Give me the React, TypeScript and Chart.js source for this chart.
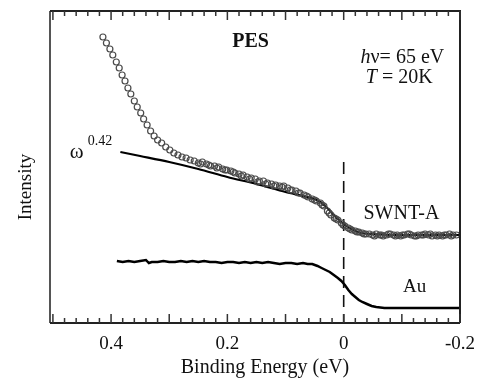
import React, { useEffect, useRef } from 'react';
import { Chart, registerables } from 'chart.js';

Chart.register(...registerables);

// SWNT-A photoemission data (open circles)
const swntX = [
  0.414, 0.408, 0.402, 0.397, 0.391, 0.386, 0.381, 0.376, 0.371, 0.366,
  0.360, 0.355, 0.349, 0.344, 0.338, 0.332, 0.326, 0.320, 0.313, 0.306,
  0.299, 0.292, 0.285, 0.278, 0.271, 0.264, 0.257, 0.250, 0.243, 0.236,
  0.229, 0.222, 0.215, 0.208, 0.201, 0.194, 0.187, 0.180, 0.173, 0.166,
  0.159, 0.152, 0.145, 0.138, 0.131, 0.124, 0.117, 0.110, 0.103, 0.096,
  0.089, 0.082, 0.075, 0.068, 0.061, 0.054, 0.047, 0.040, 0.034, 0.028,
  0.022, 0.016, 0.010, 0.004, -0.002, -0.008, -0.014, -0.020, -0.026, -0.032,
  -0.038, -0.044, -0.050, -0.056, -0.062, -0.068, -0.074, -0.080, -0.086, -0.092,
  -0.098, -0.104, -0.110, -0.116, -0.122, -0.128, -0.134, -0.140, -0.146, -0.152,
  -0.158, -0.164, -0.170, -0.176, -0.182, -0.188, -0.194,
  0.246, 0.232, 0.218, 0.204, 0.190, 0.176, 0.162, 0.148, 0.134, 0.120,
  0.106, 0.092, 0.078, 0.064, 0.050, 0.037, 0.025, 0.013, 0.001, -0.011,
  -0.023, -0.035, -0.053, -0.065, -0.077, -0.089, -0.101, -0.113, -0.125, -0.137,
  -0.149, -0.161, -0.173, -0.185,
];
const swntY = [
  286, 280, 274, 268, 261, 255, 248, 242, 235, 229,
  222, 216, 210, 204, 198, 192, 187, 183, 180, 176,
  173, 170, 168, 166, 165, 163, 162, 160, 161, 159,
  157, 157, 156, 154, 153, 152, 150, 149, 148, 146,
  145, 144, 142, 142, 140, 139, 138, 137, 137, 135,
  133, 132, 130, 128, 126, 124, 122, 120, 117, 112,
  108, 105, 103, 100, 97, 95, 93, 92, 91, 90,
  89, 89, 88, 89, 88, 87, 88, 89, 88, 88,
  87, 88, 89, 88, 87, 88, 88, 89, 88, 87,
  88, 88, 87, 88, 89, 88, 88,
  159, 158, 155, 153, 151, 147, 144, 141, 139, 137,
  136, 133, 130, 127, 123, 118, 110, 104, 98, 94,
  91, 89, 87, 88, 89, 87, 88, 89, 87, 88,
  89, 87, 88, 87,
];

// omega^0.42 fit curve (solid line)
const fitX = [0.384, 0.35, 0.30, 0.25, 0.20, 0.15, 0.10, 0.07, 0.05, 0.04, 0.03, 0.02, 0.01, 0.0, -0.01, -0.02, -0.03, -0.05, -0.08, -0.12, -0.16, -0.2];
const fitY = [171, 167, 161, 154, 146, 139, 131, 127, 124, 121, 116, 110, 104, 99, 95, 92, 90, 89, 88, 88, 88, 88];

// Au reference spectrum
const auX = [
  0.390, 0.380, 0.370, 0.360, 0.350, 0.340, 0.335, 0.330, 0.320, 0.310,
  0.300, 0.290, 0.280, 0.270, 0.260, 0.250, 0.240, 0.230, 0.220, 0.210,
  0.200, 0.190, 0.180, 0.170, 0.160, 0.150, 0.140, 0.130, 0.120, 0.110,
  0.100, 0.090, 0.080, 0.070, 0.062, 0.054, 0.045, 0.038, 0.031, 0.024,
  0.017, 0.010, 0.004, -0.002, -0.008, -0.014, -0.020, -0.026, -0.032, -0.040,
  -0.048, -0.056, -0.070, -0.090, -0.110, -0.130, -0.150, -0.170, -0.200,
];
const auY = [
  62, 61, 62, 61, 62, 63, 60, 61, 61, 62,
  61, 61, 62, 61, 62, 61, 62, 61, 61, 60,
  61, 61, 60, 61, 60, 61, 60, 61, 60, 59,
  60, 60, 59, 60, 59, 59, 57, 55, 53, 51,
  48, 45, 42, 38, 33, 29, 26, 23, 21, 19,
  17, 16, 15, 15, 15, 15, 15, 15, 15,
];

// Fermi level marker (dashed)
const fermiX = [0, 0];
const fermiY = [161, 0];

const xTickLabels = ['0.4', '0.2', '0', '-0.2'];
const xTitle = 'Binding Energy (eV)';
const yTitle = 'Intensity';

const FONT = '"Liberation Serif", "Times New Roman", serif';

const pts = (xs: number[], ys: number[]) => xs.map((x, i) => ({ x, y: ys[i] }));

export default function App() {
  const ref = useRef<HTMLCanvasElement>(null);

  useEffect(() => {
    if (!ref.current) return;

    const overlay = {
      id: 'overlay',
      beforeDraw(chart: any) {
        const { ctx } = chart;
        ctx.save();
        ctx.fillStyle = '#fff';
        ctx.fillRect(0, 0, chart.width, chart.height);
        ctx.restore();
      },
      afterDraw(chart: any) {
        const { ctx, chartArea } = chart;
        const xs = chart.scales.x;
        const ys = chart.scales.y;
        const { left, right, top, bottom } = chartArea;
        ctx.save();

        // frame
        ctx.lineWidth = 2;
        ctx.strokeStyle = '#555';
        ctx.beginPath();
        ctx.moveTo(left, top);
        ctx.lineTo(left, bottom);
        ctx.stroke();
        ctx.strokeStyle = '#222';
        ctx.beginPath();
        ctx.moveTo(left, top);
        ctx.lineTo(right, top);
        ctx.lineTo(right, bottom);
        ctx.moveTo(left, bottom);
        ctx.lineTo(right, bottom);
        ctx.stroke();

        // inward ticks top & bottom
        ctx.lineWidth = 1.5;
        ctx.strokeStyle = '#333';
        for (let i = -10; i <= 25; i++) {
          const px = xs.getPixelForValue(i * 0.02);
          const len = i % 5 === 0 ? 9 : 5;
          ctx.beginPath();
          ctx.moveTo(px, bottom);
          ctx.lineTo(px, bottom - len);
          ctx.moveTo(px, top);
          ctx.lineTo(px, top + len);
          ctx.stroke();
        }

        const txt = (s: string, x: number, y: number, size: number, style = '', align: CanvasTextAlign = 'left') => {
          ctx.font = `${style} ${size}px ${FONT}`;
          ctx.textAlign = align;
          ctx.textBaseline = 'alphabetic';
          ctx.fillStyle = '#111';
          ctx.fillText(s, x, y);
          return ctx.measureText(s).width;
        };

        // annotations at data coordinates
        txt('PES', xs.getPixelForValue(0.16), ys.getPixelForValue(276), 20, 'bold', 'center');

        let hx = xs.getPixelForValue(-0.029);
        const hy = ys.getPixelForValue(260);
        hx += txt('h', hx, hy, 20, 'italic');
        txt('\u03bd= 65 eV', hx, hy, 20);

        let tx = xs.getPixelForValue(-0.038);
        const ty = ys.getPixelForValue(240);
        tx += txt('T', tx, ty, 20, 'italic');
        txt(' = 20K', tx, ty, 20);

        txt('\u03c9', xs.getPixelForValue(0.471), ys.getPixelForValue(165), 21);
        txt('0.42', xs.getPixelForValue(0.440), ys.getPixelForValue(178), 14);

        txt('SWNT-A', xs.getPixelForValue(-0.034), ys.getPixelForValue(104), 20);
        txt('Au', xs.getPixelForValue(-0.102), ys.getPixelForValue(31), 19);

        // axis titles
        txt(xTitle, (left + right) / 2 + 10, 373, 20, '', 'center');
        ctx.save();
        ctx.translate(31, (top + bottom) / 2 + 20);
        ctx.rotate(-Math.PI / 2);
        txt(yTitle, 0, 0, 19, '', 'center');
        ctx.restore();

        ctx.restore();
      },
    };

    const chart = new Chart(ref.current, {
      type: 'scatter',
      data: {
        datasets: [
          {
            data: pts(swntX, swntY),
            showLine: false,
            pointRadius: 3,
            pointBorderWidth: 1.2,
            pointBorderColor: '#4a4a4a',
            pointBackgroundColor: 'rgba(0,0,0,0)',
          },
          {
            data: pts(fitX, fitY),
            showLine: true,
            pointRadius: 0,
            borderColor: '#000',
            borderWidth: 2.2,
            tension: 0.3,
          },
          {
            data: pts(auX, auY),
            showLine: true,
            pointRadius: 0,
            borderColor: '#000',
            borderWidth: 2.5,
            tension: 0,
          },
          {
            data: pts(fermiX, fermiY),
            showLine: true,
            pointRadius: 0,
            borderColor: '#111',
            borderWidth: 1.6,
            borderDash: [12, 7],
          },
        ],
      },
      options: {
        responsive: false,
        animation: false,
        events: [],
        layout: { padding: { left: 50, top: 11, right: 20, bottom: 0 } },
        plugins: { legend: { display: false }, tooltip: { enabled: false } },
        scales: {
          x: {
            type: 'linear',
            reverse: true,
            min: -0.2,
            max: 0.505,
            afterFit: (s: any) => {
              s.height = 58;
              s.paddingLeft = 0;
              s.paddingRight = 0;
            },
            grid: { display: false, drawTicks: false },
            border: { display: false },
            ticks: {
              stepSize: 0.02,
              autoSkip: false,
              maxRotation: 0,
              minRotation: 0,
              padding: 10,
              color: '#111',
              font: { family: FONT, size: 19 },
              callback: (v: any) => {
                const s = (Math.round(Number(v) * 100) / 100).toString();
                return xTickLabels.includes(s) ? s : '';
              },
            },
          },
          y: {
            type: 'linear',
            display: false,
            min: 0,
            max: 312,
          },
        },
      },
      plugins: [overlay],
    });

    return () => chart.destroy();
  }, []);

  return (
    <div style={{ position: 'absolute', left: 0, top: 0, width: 480, height: 381, background: '#fff' }}>
      <canvas ref={ref} width={480} height={381} style={{ display: 'block' }} />
    </div>
  );
}
